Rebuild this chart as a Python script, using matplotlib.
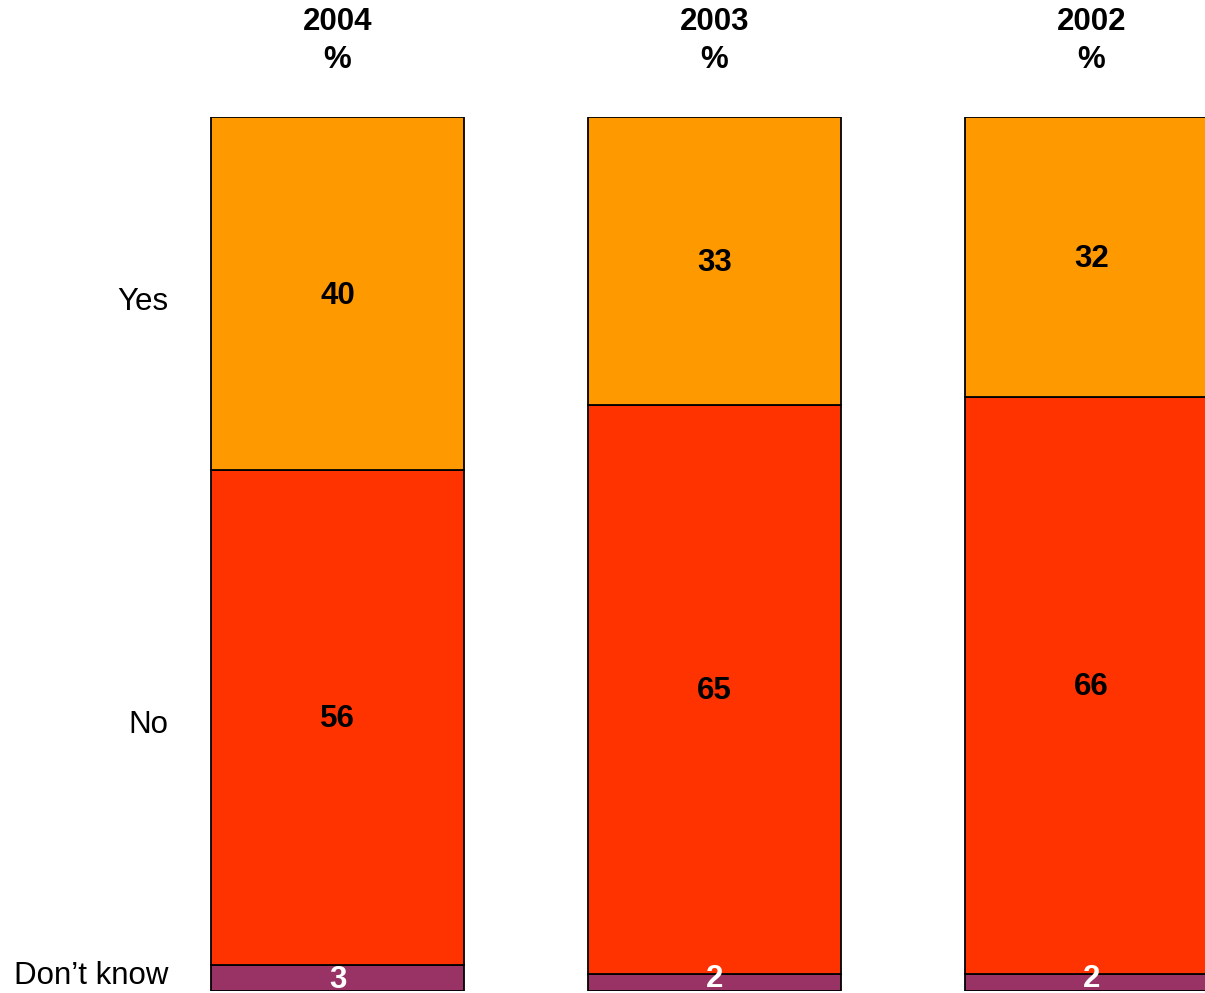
import matplotlib
matplotlib.use("Agg")
import matplotlib.pyplot as plt
import matplotlib.transforms as mtransforms
import numpy as np

plt.rcParams['font.family'] = ['Liberation Sans', 'DejaVu Sans']

years = ["2004", "2003", "2002"]
categories = ["Don\u2019t know", "No", "Yes"]
dont_know = [3, 2, 2]
no = [56, 65, 66]
yes = [40, 33, 32]
colors = ["#993366", "#FF3300", "#FF9900"]
label_colors = ["white", "black", "black"]

W, H = 1205, 993
fig = plt.figure(figsize=(W / 100, H / 100), dpi=100)
ax = fig.add_axes([0, (H - 991) / H, 1, 874 / H])

series = np.array([dont_know, no, yes], dtype=float)
totals = series.sum(axis=0)
shares = series / totals * 100  # 100% stacked

x = np.arange(len(years))
step = 377.0
ax.set_xlim(-337.5 / step, (W - 337.5) / step)
ax.set_ylim(0, 100)
width = 253 / step

def shifted(dy_px):
    return ax.transData + mtransforms.ScaledTranslation(0, dy_px / 100, fig.dpi_scale_trans)

bottom = np.zeros(len(years))
for i, cat in enumerate(categories):
    ax.bar(x, shares[i], width, bottom=bottom, color=colors[i],
           edgecolor="black", linewidth=1.3, zorder=2)
    for j in range(len(years)):
        yc = bottom[j] + shares[i][j] / 2
        # small segments: keep the label clear of the bottom edge
        dy = 3 if shares[i][j] < 2.5 else -2
        ax.text(x[j], yc, str(int(series[i][j])), ha="center", va="center",
                fontsize=22.5, fontweight="bold", color=label_colors[i],
                clip_on=False, zorder=3, transform=shifted(dy))
    # category name beside the first bar
    dy_cat = 2 if i == 0 else -8
    ax.text(-337.5 / step + 168 / step, bottom[0] + shares[i][0] / 2, cat,
            ha="right", va="center", fontsize=22.5, color="black",
            clip_on=False, transform=shifted(dy_cat))
    bottom += shares[i]

for j, yr in enumerate(years):
    fig.text(ax.transData.transform((x[j], 0))[0] / W, 1 - 41 / H,
             f"{yr}\n%", ha="center", va="center", fontsize=22.5,
             fontweight="bold", linespacing=1.38)

ax.axis("off")
fig.savefig("out.png", dpi=100)
